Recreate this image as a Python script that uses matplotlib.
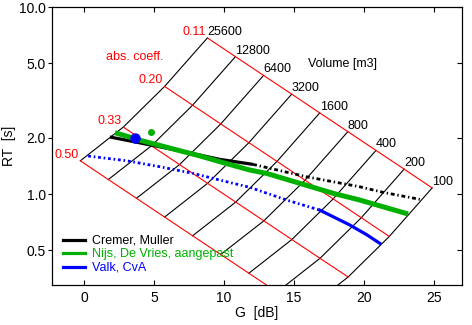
import numpy as np
import matplotlib; matplotlib.use("Agg")
import matplotlib.pyplot as plt
from matplotlib.lines import Line2D

plt.rcParams['font.family'] = ['Liberation Sans', 'DejaVu Sans']

# nomogram grid: nodes per absorption coefficient (rows) and volume (columns)
volumes = [100, 200, 400, 800, 1600, 3200, 6400, 12800, 25600]
alphas = [0.11, 0.20, 0.33, 0.50]
alpha_labels = ["0.11", "0.20", "0.33", "0.50"]
grid_G = [
    [24.86, 22.86, 20.85, 18.84, 16.83, 14.83, 12.82, 10.81, 8.81],
    [21.80, 19.80, 17.79, 15.78, 13.78, 11.77, 9.76, 7.75, 5.75],
    [18.86, 16.85, 14.84, 12.84, 10.83, 8.82, 6.82, 4.81, 2.80],
    [15.78, 13.78, 11.77, 9.76, 7.75, 5.75, 3.74, 1.73, -0.27],
]
grid_RT = [
    [1.078, 1.359, 1.712, 2.157, 2.717, 3.424, 4.313, 5.435, 6.847],
    [0.593, 0.747, 0.942, 1.186, 1.495, 1.883, 2.372, 2.989, 3.766],
    [0.360, 0.453, 0.571, 0.719, 0.906, 1.141, 1.438, 1.812, 2.282],
    [0.237, 0.299, 0.377, 0.475, 0.598, 0.753, 0.949, 1.196, 1.506],
]

# Cremer, Muller (solid part, then dash-dot part)
cm_G_solid = [1.84, 5.41, 8.26, 9.69, 12.07]
cm_RT_solid = [2.02, 1.79, 1.617, 1.533, 1.441]
cm_G_dash = [12.07, 15.89, 19.69, 21.36, 23.98]
cm_RT_dash = [1.441, 1.237, 1.094, 1.021, 0.937]

# Nijs, De Vries, aangepast
nv_G = [2.2, 4.1, 8.26, 9.69, 11.84, 13.03, 17.79, 19.69, 23.14]
nv_RT = [2.13, 1.93, 1.60, 1.49, 1.344, 1.29, 1.009, 0.929, 0.782]

# Valk, CvA (dotted part, then solid part)
vk_G_dot = [0.29, 3.03, 5.41, 7.79, 9.69, 11.84, 14.46, 16.84]
vk_RT_dot = [1.597, 1.507, 1.40, 1.29, 1.188, 1.086, 0.929, 0.82]
vk_G_solid = [16.84, 18.98, 20.2, 21.12]
vk_RT_solid = [0.82, 0.683, 0.605, 0.545]

# single measured points
green_pt = (4.77, 2.14)
blue_pt = (3.62, 1.99)

GREEN = "#00b000"
BLUE = "#0000ff"
RED = "#ff0000"

fig = plt.figure(figsize=(4.72, 3.25), dpi=100)
ax = fig.add_axes([0.110, 0.123, 0.869, 0.855])
ax.set_yscale("log")

G = np.array(grid_G); RT = np.array(grid_RT)
for j in range(len(volumes)):
    ax.plot(G[:, j], RT[:, j], color="black", lw=0.8, zorder=1)
for i in range(len(alphas)):
    ax.plot(G[i], RT[i], color=RED, lw=0.8, zorder=1)
    ax.annotate(alpha_labels[i], (G[i, -1], RT[i, -1]), xytext=(-1, 0),
                textcoords="offset points", ha="right", va="bottom",
                color=RED, fontsize=9)
for j, v in enumerate(volumes):
    ax.annotate(str(v), (G[0, j], RT[0, j]), xytext=(0, 0),
                textcoords="offset points", ha="left", va="bottom",
                color="black", fontsize=9)

ax.text(1.55, 5.4, "abs. coeff.", color=RED, fontsize=9, va="center")
ax.text(15.98, 4.96, "Volume [m3]", color="black", fontsize=9, va="center")

ax.plot(cm_G_solid, cm_RT_solid, color="black", lw=2.3, zorder=3, solid_capstyle="butt")
ax.plot(cm_G_dash, cm_RT_dash, color="black", lw=2.0, ls=(0, (1.4, 1.0, 0.5, 1.0)), zorder=3)
ax.plot(nv_G, nv_RT, color=GREEN, lw=3.6, zorder=4, solid_capstyle="butt")
ax.plot(vk_G_dot, vk_RT_dot, color=BLUE, lw=2.0, ls=(0, (1.0, 1.0, 0.6, 1.0)), zorder=3)
ax.plot(vk_G_solid, vk_RT_solid, color=BLUE, lw=2.3, zorder=3)
ax.plot(*green_pt, "o", color=GREEN, ms=4, mec=GREEN, zorder=5)
ax.plot(*blue_pt, "o", color=BLUE, ms=6.5, mec=BLUE, zorder=5)

ax.set_xlim(-2.3, 27.0)
ax.set_ylim(0.326, 10.0)
xticks = [0, 5, 10, 15, 20, 25]
yticks = [0.5, 1.0, 2.0, 5.0, 10.0]
ax.set_xticks(xticks)
ax.set_yticks(yticks)
ax.set_yticklabels([f"{t:.1f}" for t in yticks])
ax.minorticks_off()
ax.tick_params(axis="x", direction="in", top=True, length=3.5, labelsize=10, pad=4)
ax.tick_params(axis="y", direction="out", right=False, length=3, labelsize=10, pad=1.5)

ax2 = ax.twinx()
ax2.set_yscale("log")
ax2.set_ylim(ax.get_ylim())
ax2.set_yticks(yticks)
ax2.minorticks_off()
ax2.tick_params(axis="y", direction="in", length=3.5, labelright=False)

ax.set_xlabel("G  [dB]", fontsize=10, labelpad=1)
ax.set_ylabel("RT  [s]", fontsize=10)
ax.yaxis.set_label_coords(-0.088, 0.5)

handles = [Line2D([], [], color="black", lw=2.3),
           Line2D([], [], color=GREEN, lw=2.3),
           Line2D([], [], color=BLUE, lw=2.3)]
labels = ["Cremer, Muller", "Nijs, De Vries, aangepast", "Valk, CvA"]
ax.legend(handles, labels, loc="lower left", bbox_to_anchor=(0.027, 0.04),
          frameon=False, fontsize=9, borderpad=0, borderaxespad=0,
          handlelength=1.8, handletextpad=0.5, labelspacing=0.12,
          labelcolor="linecolor")

fig.savefig("out.png", dpi=100)
